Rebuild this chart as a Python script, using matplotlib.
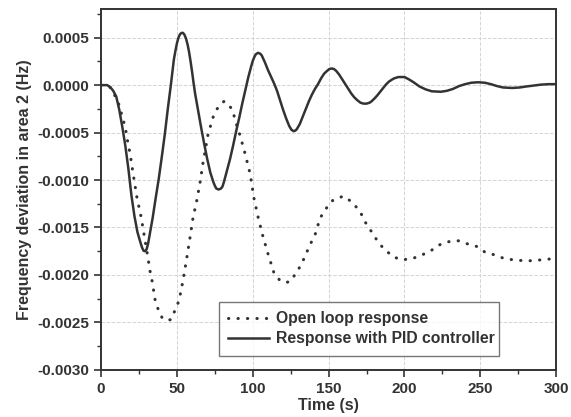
import matplotlib
matplotlib.use('Agg')
import matplotlib.pyplot as plt
from matplotlib.ticker import MultipleLocator, FormatStrFormatter

plt.rcParams['font.family'] = ['Liberation Sans', 'DejaVu Sans']
plt.rcParams['axes.unicode_minus'] = False

# Response with PID controller (time in s, deviation in 1e-4 Hz)
t_pid = [0, 4, 6, 8, 10, 12, 14, 16, 18, 20, 22, 24, 26, 27, 28, 29, 30, 31, 32, 34, 36, 38,
         40, 42, 44, 46, 48, 49, 50, 51, 52, 53, 54, 55, 56, 57, 58, 59, 60, 61, 62, 64, 66, 68, 70, 72, 74, 75, 76, 77.5,
         79, 80, 81, 83, 85, 87, 89, 91, 93, 95, 97, 99, 100, 101, 102, 103.5, 105, 106, 108, 110, 112, 114, 116, 118,
         120, 122, 124, 125.5, 126.8, 128, 129, 131, 133, 135, 137, 139, 141, 143, 145, 147, 149, 150.5, 152, 153.5, 155, 157, 159, 161,
         163, 165, 167, 169, 171, 173, 175, 177, 178, 180, 182, 184, 186, 188, 190, 193, 196, 200, 203, 206, 210, 214,
         218, 224, 228, 232, 236, 240, 244, 248.5, 253, 257, 261, 265, 271, 276, 280, 285, 290, 295, 300]
v_pid = [0, 0, -0.2, -0.6, -1.2, -2.6, -4.4, -6.4, -8.8, -11.6, -13.8, -15.5, -16.6, -17.1, -17.45, -17.5, -17.3, -16.7, -15.8, -14.0, -11.9, -9.9,
         -7.6, -5.2, -2.5, 0.0, 2.7, 3.6, 4.4, 5.0, 5.35, 5.5, 5.5, 5.3, 4.9, 4.3, 3.5, 2.5, 1.4, 0.2, -0.9, -2.7, -4.5, -6.2, -7.8, -9.2, -10.2, -10.6, -10.9, -11.0,
         -10.9, -10.7, -10.2, -9.0, -7.8, -6.4, -4.9, -3.5, -2.0, -0.6, 0.8, 2.0, 2.55, 2.95, 3.25, 3.4, 3.3, 3.1, 2.4, 1.6, 0.9, 0.2, -0.6, -1.6,
         -2.6, -3.5, -4.3, -4.7, -4.85, -4.8, -4.65, -4.1, -3.3, -2.5, -1.7, -1.0, -0.4, 0.1, 0.7, 1.2, 1.5, 1.7, 1.75, 1.7, 1.5, 1.1, 0.6, 0.1,
         -0.4, -0.9, -1.3, -1.6, -1.85, -1.95, -1.95, -1.85, -1.75, -1.45, -1.1, -0.7, -0.3, 0.1, 0.4, 0.7, 0.85, 0.85, 0.6, 0.3, -0.15, -0.45,
         -0.65, -0.7, -0.6, -0.4, -0.1, 0.1, 0.25, 0.3, 0.25, 0.1, -0.1, -0.25, -0.3, -0.25, -0.15, -0.05, 0.05, 0.1, 0.1]

# Open loop response
t_open = [0, 5, 7, 9.9, 12.5, 13.8, 15.8, 17.8, 19.1, 21.1, 23.7, 26.4, 28.3, 30.3, 32.3, 33.6, 35.6, 37.6, 40.2, 43,
          46.1, 48.8, 51.4, 54, 56, 58.7, 60.6, 63.3, 65.3, 67.2, 70.5, 73.8, 76.5, 81.1, 86.4, 89.7, 91.6, 94.9, 98.2, 100.9,
          103.5, 106.8, 110.1, 114, 118, 121.5, 124.6, 129, 132.3, 137.8, 141, 144.4, 148.8, 153, 159.7, 165.3, 170.7, 174, 177.3, 181.7,
          186.1, 192.7, 198.2, 204.8, 211.4, 216.9, 223.5, 229, 235.5, 241, 247.7, 253.1, 259.7, 266.3, 271.8, 278.4, 285, 290.5, 297.1, 300]
v_open = [0, -0.1, -0.4, -1.4, -2.3, -3.3, -4.3, -6.2, -7.2, -9.3, -11.9, -13.9, -15.7, -17.6, -19.6, -20.6, -22.6, -23.6, -24.5, -24.8,
          -24.7, -23.7, -22.7, -20.6, -18.7, -16.0, -14.0, -12.0, -10.2, -8.2, -5.2, -3.4, -2.5, -1.7, -2.5, -4.4, -5.3, -7.2, -9.3, -12.0,
          -13.9, -16.0, -17.8, -19.8, -20.6, -20.8, -20.7, -19.7, -18.8, -16.8, -15.8, -14.0, -12.9, -12.1, -11.7, -12.3, -13.3, -14.4, -15.2, -16.3,
          -17.2, -18.1, -18.4, -18.3, -17.9, -17.5, -16.8, -16.5, -16.4, -16.7, -17.0, -17.6, -17.9, -18.3, -18.4, -18.5, -18.5, -18.4, -18.3, -18.3]

v_pid = [v * 1e-4 for v in v_pid]
v_open = [v * 1e-4 for v in v_open]

fig = plt.figure(figsize=(5.71, 4.17), dpi=100)
ax = fig.add_axes([0.177, 0.113, 0.797, 0.865])

ax.plot(t_open, v_open, color='#333333', linewidth=2.2, linestyle=(0, (0.1, 3.0)),
        dash_capstyle='round', label='Open loop response')
ax.plot(t_pid, v_pid, color='#333333', linewidth=1.8, label='Response with PID controller')

ax.set_xlim(0, 300)
ax.set_ylim(-0.003, 0.0008)
ax.xaxis.set_major_locator(MultipleLocator(50))
ax.xaxis.set_minor_locator(MultipleLocator(25))
ax.yaxis.set_major_locator(MultipleLocator(0.0005))
ax.yaxis.set_minor_locator(MultipleLocator(0.00025))
ax.yaxis.set_major_formatter(FormatStrFormatter('%.4f'))

ax.grid(True, which='major', color='#d4d4d4', linestyle='--', linewidth=0.7)
ax.tick_params(which='major', direction='out', length=5, width=1.2, labelsize=11, colors='#333333')
ax.tick_params(which='minor', direction='out', length=3, width=1.0, colors='#333333')
for lab in ax.get_xticklabels() + ax.get_yticklabels():
    lab.set_fontweight('bold')
for s in ax.spines.values():
    s.set_linewidth(1.4)
    s.set_color('#333333')

ax.set_xlabel('Time (s)', fontsize=11.5, fontweight='bold', color='#333333', labelpad=2)
ax.set_ylabel('Frequency deviation in area 2 (Hz)', fontsize=11.5, fontweight='bold', color='#333333', labelpad=4)

leg = ax.legend(loc='upper left', bbox_to_anchor=(0.259, 0.188, 0.616, 0.0), mode='expand',
                prop={'size': 11.3, 'weight': 'bold'}, frameon=True, fancybox=False,
                handlelength=2.6, borderaxespad=0, borderpad=0.6, labelspacing=0.3, handletextpad=0.45)
leg.get_frame().set_edgecolor('#555555')
leg.get_frame().set_linewidth(1.0)
for txt in leg.get_texts():
    txt.set_color('#333333')

plt.savefig('out.png', dpi=100)
